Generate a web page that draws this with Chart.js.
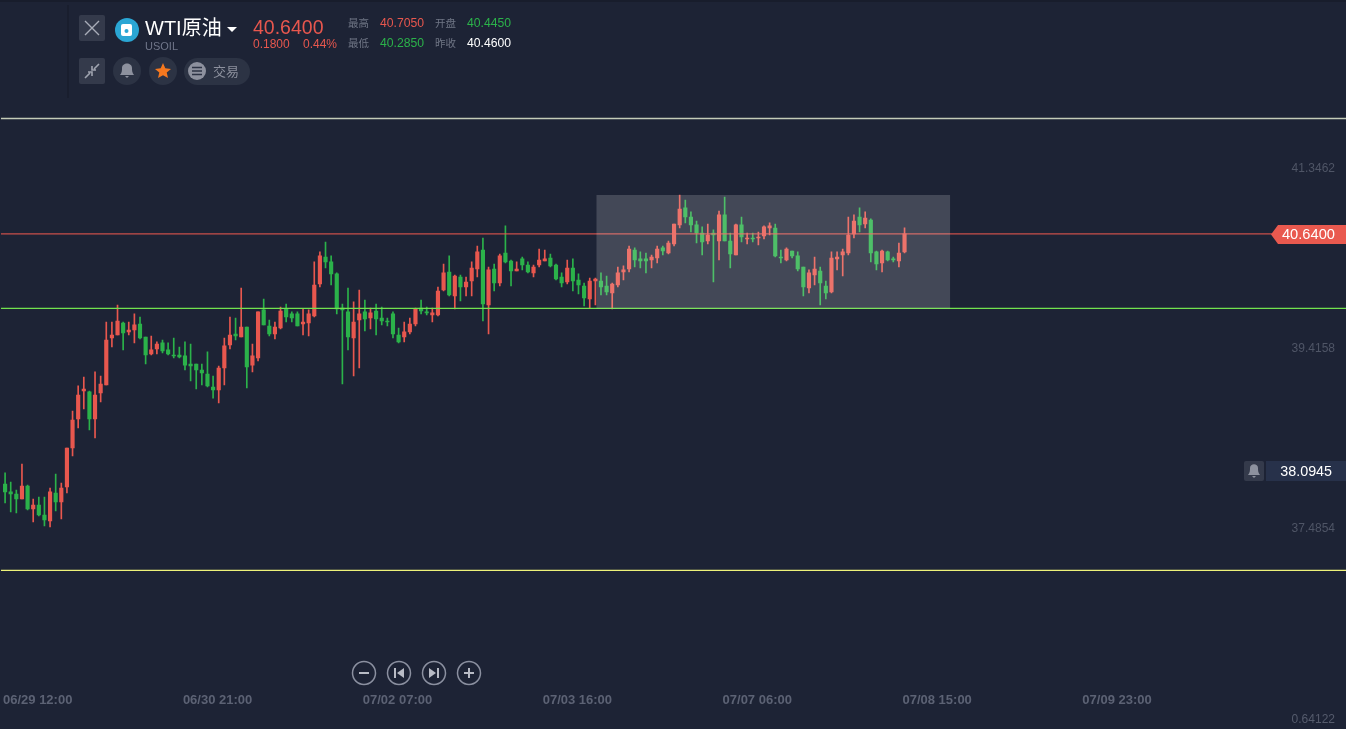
<!DOCTYPE html>
<html>
<head>
<meta charset="utf-8">
<title>WTI原油</title>
<script src="https://cdn.jsdelivr.net/npm/chart.js@4/dist/chart.umd.min.js"></script>
<style>
  html, body { margin: 0; padding: 0; background: #1d2335; overflow: hidden; }
  #wrap { position: relative; width: 1346px; height: 729px; font-family: "Liberation Sans", "Noto Sans CJK SC", sans-serif; }
  #priceChart { position: absolute; left: 0; top: 0; }
  .t { position: absolute; white-space: nowrap; line-height: 1; }
  .red { color: #e8574e; }
  .green { color: #2bb24a; }
  .grey { color: #6f7585; }
  #overlay { position: absolute; left: 0; top: 0; }
</style>
</head>
<body>
<div id="wrap">
  <canvas id="priceChart" width="1346" height="729"></canvas>

  <svg id="overlay" width="1346" height="729">
    <rect x="0" y="0" width="1346" height="2" fill="#181d2c"/>
    <rect x="67" y="5" width="2" height="93" fill="#191e2e"/>
    <!-- close + shrink buttons -->
    <rect x="79" y="15" width="26" height="26" rx="2" fill="#343a4b"/>
    <path d="M85 21 L99 35 M99 21 L85 35" stroke="#a9adb8" stroke-width="1.4"/>
    <rect x="79" y="58" width="26" height="26" rx="2" fill="#343a4b"/>
    <path d="M85 78 L90 73 M88 72 L92 72 L92 76 M99 64 L94 69 M96 70 L92 70 L92 66" stroke="#a0a4b0" stroke-width="1.6" fill="none"/>
    <!-- logo -->
    <circle cx="127" cy="30" r="12" fill="#2aa6d4"/>
    <rect x="121" y="24" width="11" height="12" rx="2" fill="#fff"/>
    <circle cx="126.5" cy="31" r="2" fill="#2aa6d4"/>
    <path d="M227 27 L237 27 L232 32 Z" fill="#fff"/>
    <!-- bell -->
    <circle cx="127" cy="71" r="14" fill="#2c3344"/>
    <path d="M120 75 C122 73 122 70 122 68 C122 62 132 62 132 68 C132 70 132 73 134 75 Z M125 76 L129 76 L127 78 Z" fill="#8d919e"/>
    <!-- star -->
    <circle cx="163" cy="71" r="14" fill="#2c3344"/>
    <path d="M163 63 L165.3 68.3 L171 68.9 L166.7 72.6 L168 78 L163 75.2 L158 78 L159.3 72.6 L155 68.9 L160.7 68.3 Z" fill="#f5781f"/>
    <!-- trade pill -->
    <rect x="184" y="58" width="66" height="27" rx="13.5" fill="#2c3344"/>
    <circle cx="197" cy="71" r="9" fill="#8d919e"/>
    <path d="M192 67.5 H202 M192 71 H202 M192 74.5 H202" stroke="#2c3344" stroke-width="1.6"/>
    <!-- current price tag -->
    <path d="M1271 234.5 L1278 225 L1346 225 L1346 244 L1278 244 Z" fill="#e9594f"/>
    <!-- alert box -->
    <rect x="1244" y="461" width="20" height="20" rx="2" fill="#343a4b"/>
    <path d="M1248 475 C1250 473 1250 470 1250 468 C1250 463 1258 463 1258 468 C1258 470 1258 473 1260 475 Z M1252 476 L1256 476 L1254 478 Z" fill="#8d919e"/>
    <rect x="1266" y="461" width="80" height="20" fill="#27314a"/>
    <!-- zoom buttons -->
    <g fill="none" stroke="#8b90a0" stroke-width="1.5">
      <circle cx="364" cy="673" r="11.5"/>
      <circle cx="399" cy="673" r="11.5"/>
      <circle cx="434" cy="673" r="11.5"/>
      <circle cx="469" cy="673" r="11.5"/>
    </g>
    <path d="M359 673 H369 M464 673 H474 M469 668 V678" stroke="#b8bbc5" stroke-width="2"/>
    <path d="M395 668 V678" stroke="#b8bbc5" stroke-width="2"/>
    <path d="M404 668 L404 678 L397 673 Z" fill="#b8bbc5"/>
    <path d="M438 668 V678" stroke="#b8bbc5" stroke-width="2"/>
    <path d="M429 668 L429 678 L436 673 Z" fill="#b8bbc5"/>
  </svg>

  <div class="t" style="left:145px;top:18px;font-size:20px;color:#fff">WTI原油</div>
  <div class="t" style="left:145px;top:41px;font-size:11px;color:#70768a">USOIL</div>
  <div class="t red" style="left:253px;top:18px;font-size:19.5px">40.6400</div>
  <div class="t red" style="left:253px;top:38px;font-size:12px">0.1800</div>
  <div class="t red" style="left:303px;top:38px;font-size:12px">0.44%</div>
  <div class="t grey" style="left:348px;top:18px;font-size:10.5px">最高</div>
  <div class="t red" style="left:380px;top:17px;font-size:12.2px">40.7050</div>
  <div class="t grey" style="left:435px;top:18px;font-size:10.5px">开盘</div>
  <div class="t green" style="left:467px;top:17px;font-size:12.2px">40.4450</div>
  <div class="t grey" style="left:348px;top:38px;font-size:10.5px">最低</div>
  <div class="t green" style="left:380px;top:37px;font-size:12.2px">40.2850</div>
  <div class="t grey" style="left:435px;top:38px;font-size:10.5px">昨收</div>
  <div class="t" style="left:467px;top:37px;font-size:12.2px;color:#fff">40.4600</div>
  <div class="t" style="left:213px;top:65px;font-size:13px;color:#8d919e">交易</div>
  <div class="t" style="right:11px;top:227px;font-size:14.7px;color:#fff">40.6400</div>
  <div class="t" style="right:14px;top:464px;font-size:14.3px;color:#fff">38.0945</div>
  <div class="t" style="right:11px;top:713px;font-size:12px;color:#555b6c">0.64122</div>
</div>

<script>
const opens = [37.957,37.872,37.850,37.796,37.936,37.689,37.732,37.625,37.560,37.861,37.765,37.925,38.343,38.655,38.955,38.945,38.655,38.934,39.019,39.523,39.555,39.684,39.588,39.609,39.673,39.534,39.352,39.405,39.470,39.395,39.341,39.341,39.331,39.244,39.244,39.180,39.137,38.998,38.966,39.201,39.448,39.566,39.534,39.641,39.233,39.309,39.824,39.652,39.566,39.630,39.834,39.781,39.781,39.673,39.684,39.759,40.102,40.392,40.339,40.210,39.845,39.803,39.523,39.716,39.803,39.738,39.813,39.738,39.705,39.781,39.555,39.534,39.588,39.673,39.845,39.803,39.770,39.770,40.038,40.231,39.974,40.177,40.070,40.134,40.263,40.467,39.877,40.263,40.113,40.435,40.349,40.242,40.371,40.306,40.221,40.306,40.349,40.381,40.306,40.177,40.124,40.274,40.145,40.081,39.941,40.134,40.134,40.081,40.006,40.091,40.231,40.263,40.467,40.371,40.371,40.360,40.381,40.489,40.435,40.531,40.736,40.918,40.821,40.736,40.649,40.563,40.649,40.563,40.843,40.563,40.413,40.736,40.585,40.596,40.596,40.617,40.703,40.703,40.392,40.360,40.456,40.403,40.285,40.059,40.199,40.242,40.081,40.017,40.371,40.413,40.435,40.639,40.821,40.746,40.789,40.446,40.328,40.446,40.371,40.349,40.445];
const closes = [37.872,37.850,37.796,37.936,37.689,37.732,37.625,37.571,37.872,37.765,37.914,38.343,38.644,38.912,38.976,38.655,38.912,39.030,39.502,39.555,39.705,39.577,39.609,39.663,39.523,39.341,39.395,39.459,39.384,39.352,39.331,39.320,39.233,39.223,39.180,39.148,39.009,38.966,39.201,39.438,39.555,39.545,39.641,39.212,39.331,39.803,39.663,39.566,39.641,39.813,39.748,39.738,39.652,39.695,39.781,40.091,40.403,40.339,40.210,39.834,39.824,39.534,39.695,39.781,39.727,39.792,39.727,39.705,39.695,39.566,39.481,39.588,39.673,39.834,39.813,39.792,39.792,40.027,40.221,39.984,40.188,40.070,40.124,40.274,40.446,39.888,40.253,40.113,40.403,40.339,40.242,40.263,40.306,40.231,40.285,40.360,40.371,40.296,40.156,40.113,40.274,40.134,40.091,39.952,40.134,40.156,40.070,40.017,40.102,40.221,40.253,40.478,40.360,40.349,40.349,40.392,40.478,40.456,40.542,40.746,40.907,40.821,40.736,40.649,40.553,40.628,40.628,40.843,40.563,40.424,40.736,40.606,40.596,40.585,40.606,40.714,40.725,40.403,40.381,40.478,40.403,40.263,40.070,40.221,40.263,40.113,40.006,40.381,40.392,40.446,40.628,40.778,40.736,40.810,40.435,40.317,40.456,40.360,40.360,40.435,40.640];
const highs = [38.076,37.979,37.893,38.172,37.947,37.796,37.818,37.818,37.914,38.065,37.968,38.343,38.740,39.009,39.105,38.955,39.159,39.116,39.695,39.695,39.877,39.695,39.695,39.781,39.748,39.534,39.545,39.481,39.502,39.470,39.523,39.427,39.481,39.459,39.244,39.244,39.374,39.116,39.223,39.523,39.748,39.738,40.059,39.641,39.459,39.803,39.941,39.716,39.695,39.856,39.888,39.803,39.803,39.834,39.824,40.339,40.446,40.553,40.403,40.221,39.888,40.059,39.910,40.038,39.931,39.845,39.888,39.856,39.738,39.803,39.630,39.695,39.738,39.845,39.931,39.856,39.845,40.070,40.317,40.403,40.199,40.199,40.177,40.339,40.510,40.596,40.285,40.317,40.424,40.725,40.360,40.339,40.392,40.339,40.306,40.478,40.467,40.424,40.317,40.221,40.360,40.371,40.210,40.113,40.167,40.167,40.221,40.188,40.113,40.285,40.296,40.510,40.489,40.446,40.435,40.413,40.510,40.510,40.563,40.746,41.057,41.003,40.875,40.778,40.714,40.746,40.682,40.885,41.035,40.649,40.746,40.821,40.649,40.649,40.660,40.725,40.757,40.746,40.467,40.489,40.456,40.446,40.285,40.253,40.392,40.285,40.134,40.446,40.446,40.478,40.821,40.843,40.918,40.875,40.800,40.456,40.467,40.456,40.392,40.542,40.705];
const lows = [37.754,37.658,37.647,37.796,37.679,37.550,37.615,37.507,37.496,37.668,37.582,37.861,38.258,38.558,38.762,38.537,38.451,38.837,39.019,39.427,39.555,39.395,39.555,39.470,39.513,39.244,39.341,39.352,39.363,39.341,39.309,39.309,39.180,39.062,38.976,39.019,38.998,38.879,38.826,39.019,39.405,39.502,39.534,38.987,39.159,39.276,39.663,39.545,39.513,39.620,39.695,39.695,39.652,39.555,39.545,39.748,40.070,40.274,40.091,39.781,39.030,39.395,39.116,39.201,39.598,39.620,39.555,39.663,39.652,39.523,39.470,39.481,39.566,39.652,39.781,39.770,39.695,39.759,40.027,39.974,39.834,39.920,39.974,39.974,40.177,39.705,39.566,40.027,40.081,40.328,40.081,40.242,40.253,40.221,40.177,40.285,40.349,40.285,40.145,40.070,40.102,40.027,39.995,39.866,39.845,39.877,39.984,39.984,39.834,40.070,40.145,40.231,40.285,40.274,40.221,40.274,40.328,40.413,40.424,40.510,40.703,40.757,40.660,40.542,40.413,40.531,40.124,40.360,40.563,40.274,40.413,40.553,40.531,40.553,40.521,40.585,40.628,40.392,40.328,40.349,40.381,40.242,39.974,40.006,40.091,39.877,39.941,40.006,40.253,40.188,40.413,40.596,40.660,40.703,40.339,40.253,40.231,40.349,40.339,40.285,40.435];

const yTicks = [41.3462, 39.4158, 37.4854];
const xTickIndex = [5.8, 37.8, 69.8, 101.8, 133.8, 165.8, 197.8];
const xTickLabels = ['06/29 12:00', '06/30 21:00', '07/02 07:00', '07/03 16:00', '07/07 06:00', '07/08 15:00', '07/09 23:00'];

const upperLine = 41.877;
const middleLine = 39.840;
const lowerLine = 37.030;
const lastPrice = 40.64;
const boxRange = [105.2, 168.1];
const boxPrices = [41.057, 39.840];

const upColor = '#e8574e';
const downColor = '#2bb24a';
const xMin = -0.764;
const xMax = 238.53;

const candleColors = closes.map((c, i) => (c >= opens[i] ? upColor : downColor));

function flatLine(value, color) {
  return {
    type: 'line',
    data: [{ x: xMin, y: value }, { x: xMax, y: value }],
    borderColor: color,
    borderWidth: 1.3,
    pointRadius: 0,
    order: 0
  };
}

// the grey selection box sits over the candles
const boxPlugin = {
  id: 'selectionBox',
  afterDatasetsDraw(chart) {
    const { ctx, scales } = chart;
    const x1 = scales.x.getPixelForValue(boxRange[0]);
    const x2 = scales.x.getPixelForValue(boxRange[1]);
    const y1 = scales.y.getPixelForValue(boxPrices[0]);
    const y2 = scales.y.getPixelForValue(boxPrices[1]);
    ctx.save();
    ctx.fillStyle = 'rgba(255,255,255,0.17)';
    ctx.fillRect(x1, y1, x2 - x1, y2 - y1);
    ctx.restore();
  }
};

new Chart(document.getElementById('priceChart'), {
  type: 'bar',
  plugins: [boxPlugin],
  data: {
    datasets: [
      flatLine(upperLine, '#c4cbb8'),
      flatLine(middleLine, '#72e24e'),
      flatLine(lowerLine, '#eef27a'),
      flatLine(lastPrice, 'rgba(232,87,78,0.85)'),
      {
        data: opens.map((o, i) => ({ x: i, y: [o, closes[i]] })),
        backgroundColor: candleColors,
        barThickness: 3.5,
        order: 1
      },
      {
        data: lows.map((l, i) => ({ x: i, y: [l, highs[i]] })),
        backgroundColor: candleColors,
        barThickness: 1,
        order: 2
      }
    ]
  },
  options: {
    responsive: false,
    animation: false,
    layout: { padding: { left: -1 } },
    datasets: { bar: { grouped: false } },
    plugins: { legend: { display: false }, tooltip: { enabled: false } },
    scales: {
      x: {
        type: 'linear',
        offset: false,
        min: xMin,
        max: xMax,
        grid: { display: false, drawTicks: false },
        border: { display: false },
        afterBuildTicks: axis => { axis.ticks = xTickIndex.map(v => ({ value: v })); },
        afterFit: axis => { axis.height = 39; },
        ticks: {
          autoSkip: false,
          maxRotation: 0,
          padding: 3,
          color: '#5c6274',
          font: { family: '"Liberation Sans"', size: 13, weight: 'bold' },
          callback: (value, index) => xTickLabels[index]
        }
      },
      y: {
        type: 'linear',
        position: 'right',
        min: 35.748,
        max: 43.148,
        grid: { display: false, drawTicks: false },
        border: { display: false },
        afterBuildTicks: axis => { axis.ticks = yTicks.map(v => ({ value: v })); },
        afterFit: axis => { axis.width = 0; },
        ticks: {
          mirror: true,
          padding: -11,
          labelOffset: 1,
          color: '#4f5566',
          font: { family: '"Liberation Sans"', size: 12 },
          callback: value => value.toFixed(4)
        }
      }
    }
  }
});
</script>
</body>
</html>
